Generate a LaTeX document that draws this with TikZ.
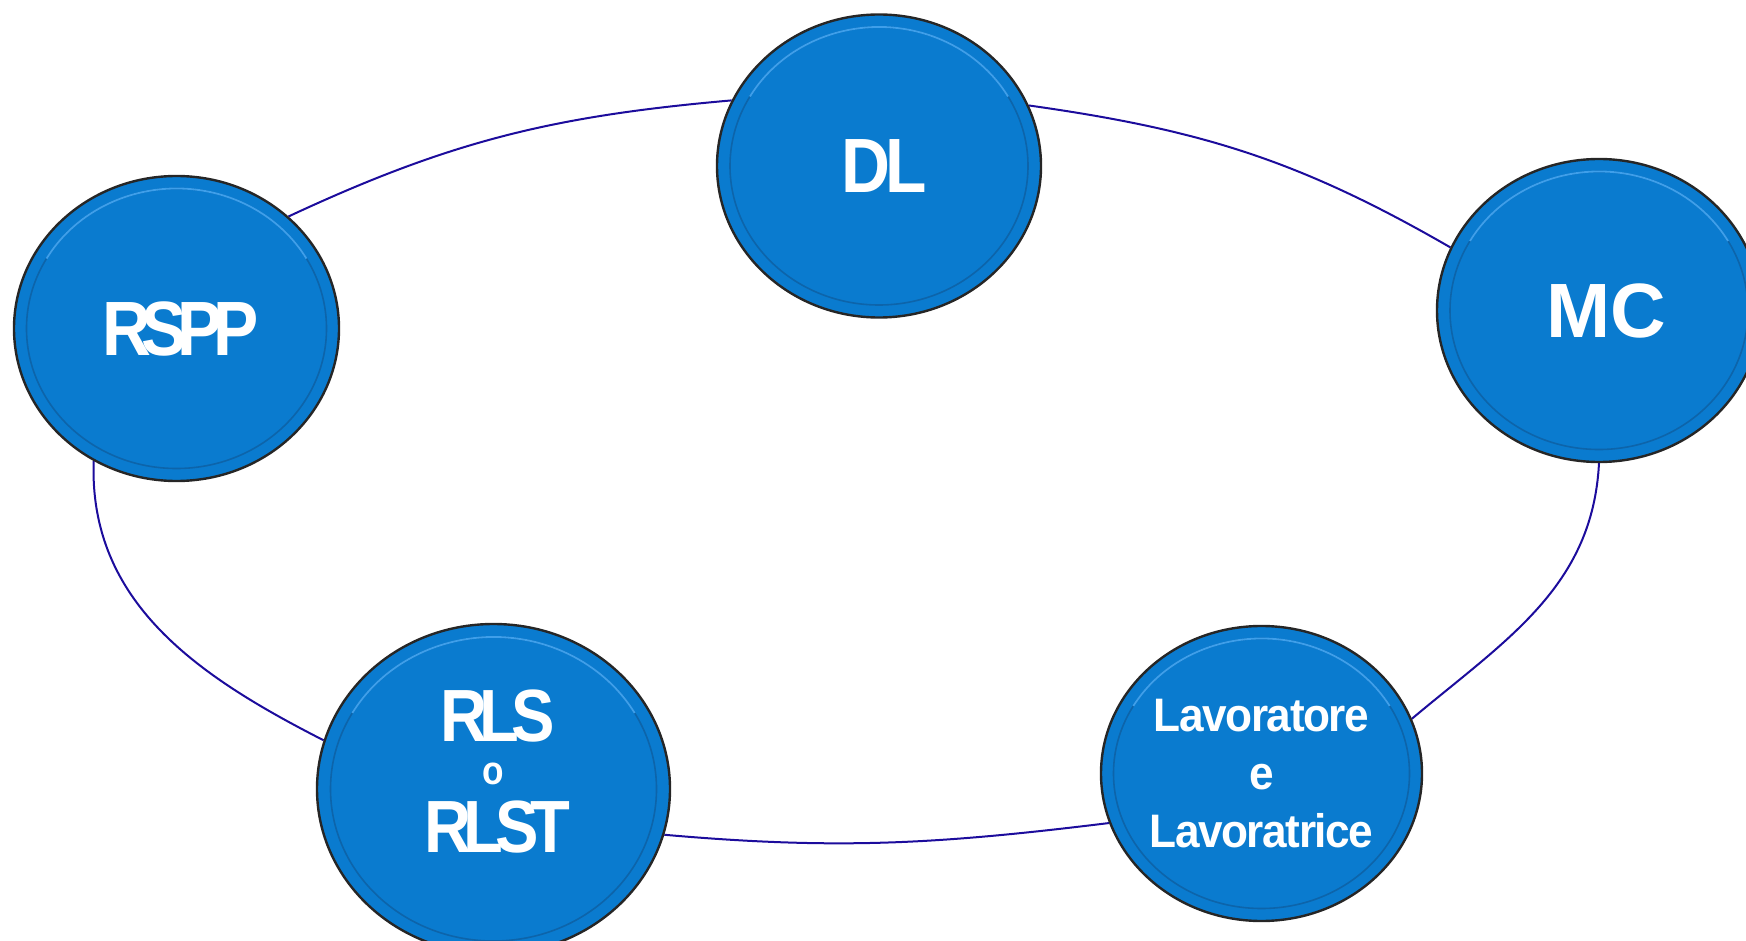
\documentclass[tikz,border=0pt]{standalone}
\usepackage{fontspec}
\setmainfont{Liberation Sans}
\usetikzlibrary{shapes.geometric}
\pgfdeclarelayer{bg}\pgfsetlayers{bg,main}
\definecolor{discblue}{HTML}{0A7BCF}
\definecolor{ringblue}{HTML}{0D64AA}
\definecolor{ringhi}{HTML}{3F9FEA}
\definecolor{linkblue}{HTML}{1C0C9C}
\tikzset{
  disc/.style={ellipse, fill=discblue, draw=black!85, line width=2.4pt, inner sep=0pt,
    text=white, align=center},
  link/.style={draw=linkblue, line width=2pt},
  ringline/.style={draw=ringblue, line width=1.6pt},
  ringlight/.style={draw=ringhi, line width=1.8pt},
}
\newcommand\discring[3]{%
  \draw[ringline] (#1.center) ellipse [x radius=#2pt, y radius=#3pt];
  \draw[ringlight] (#1.center) ++(150:#2pt and #3pt) arc[start angle=150, end angle=30, x radius=#2pt, y radius=#3pt];
}
\begin{document}
\begin{tikzpicture}[x=1pt,y=-1pt]
\useasboundingbox (0,0) rectangle (1746,941);
\node[disc, minimum width=324, minimum height=303,
  font=\bfseries\fontsize{77}{77}\selectfont\addfontfeatures{FakeStretch=0.88,LetterSpace=-7}] (DL) at (879,166) {\hspace*{10pt}DL};
\node[disc, minimum width=325, minimum height=305,
  font=\bfseries\fontsize{77}{77}\selectfont\addfontfeatures{FakeStretch=0.88,LetterSpace=-12}] (RSPP) at (176.5,328.5) {\hspace*{8pt}RSPP};
\node[disc, minimum width=324, minimum height=303,
  font=\bfseries\fontsize{77}{77}\selectfont] (MC) at (1599,310.5) {\hspace*{14pt}MC};
\node[disc, minimum width=353, minimum height=330,
  font=\bfseries\fontsize{74}{74}\selectfont\addfontfeatures{FakeStretch=0.88,LetterSpace=-11}] (RLS) at (493.5,789)
  {\hspace*{8pt}RLS\\[-31pt]{\fontsize{40}{40}\selectfont\addfontfeatures{LetterSpace=0}o}\\[-6pt]\hspace*{8pt}RLST\rule[-36pt]{0pt}{36pt}};
\node[disc, minimum width=321, minimum height=295,
  font=\bfseries\fontsize{47}{58}\selectfont\addfontfeatures{FakeStretch=0.94,LetterSpace=-3}] (LAV) at (1261.5,773.5)
  {Lavoratore\\e\\Lavoratrice};
\discring{DL}{149}{139}
\discring{RSPP}{150}{140}
\discring{MC}{149}{139}
\discring{RLS}{163}{152}
\discring{LAV}{148}{135}
\begin{pgfonlayer}{bg}
\draw[link] (DL.156) to[out=185, in=25] (RSPP.45);
\draw[link] (DL.22) to[out=-8, in=150] (MC.157);
\draw[link] (MC.270) to[out=267, in=40] (LAV.20);
\draw[link] (LAV.198) to[out=187, in=-5] (RLS.345);
\draw[link] (RLS.164) to[out=153, in=-92] (RSPP.238);
\end{pgfonlayer}
\end{tikzpicture}
\end{document}
